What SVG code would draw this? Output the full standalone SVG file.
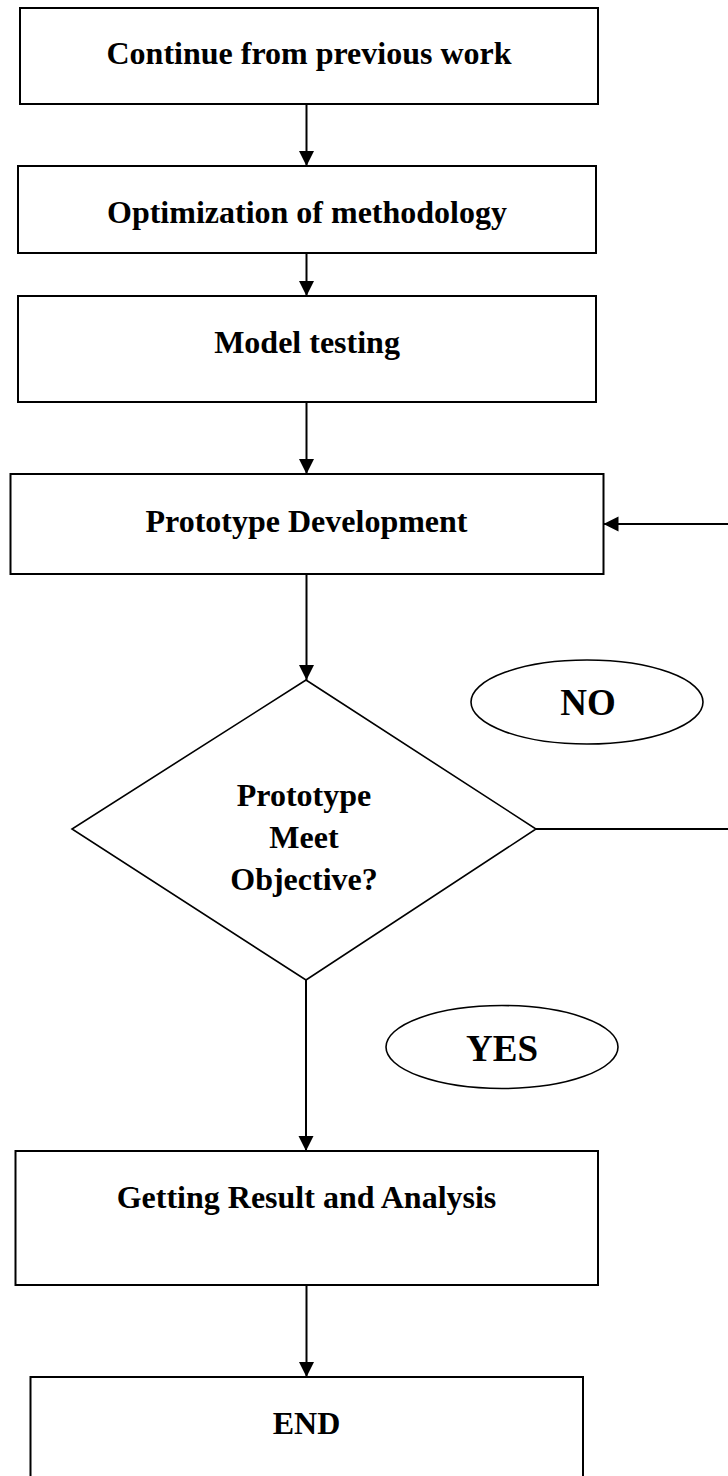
<svg xmlns="http://www.w3.org/2000/svg" width="728" height="1476" viewBox="0 0 728 1476">
<style>
.box{fill:#fff;stroke:#000;stroke-width:2}
.dia{fill:#fff;stroke:#000;stroke-width:1.6}
.ell{fill:#fff;stroke:#000;stroke-width:1.6}
.lbl{font-family:"Liberation Serif","Times New Roman",serif;font-weight:bold;font-size:32px;text-anchor:middle;fill:#000}
.big{font-size:37px}
.con{fill:none;stroke:#000;stroke-width:2}
</style>
<defs>
<marker id="ah" markerUnits="userSpaceOnUse" markerWidth="16" markerHeight="16" viewBox="0 0 16 16" refX="15" refY="8" orient="auto">
<path d="M0,0.5 L15,8 L0,15.5 Z" fill="#000"/>
</marker>
</defs>
<rect width="728" height="1476" fill="#fff"/>
<g id="connectors">
<line class="con" x1="306.5" y1="104" x2="306.5" y2="166" marker-end="url(#ah)"/>
<line class="con" x1="306.5" y1="253" x2="306.5" y2="296" marker-end="url(#ah)"/>
<line class="con" x1="306.5" y1="402" x2="306.5" y2="474" marker-end="url(#ah)"/>
<line class="con" x1="306.5" y1="574" x2="306.5" y2="680" marker-end="url(#ah)"/>
<line class="con" x1="536" y1="829" x2="728" y2="829"/>
<line class="con" x1="728" y1="524" x2="603.5" y2="524" marker-end="url(#ah)"/>
<line class="con" x1="306" y1="980" x2="306" y2="1151" marker-end="url(#ah)"/>
<line class="con" x1="306.5" y1="1285" x2="306.5" y2="1377" marker-end="url(#ah)"/>
</g>
<g id="n1">
<rect class="box" x="20" y="8" width="578" height="96"/>
<text class="lbl" x="309" y="64">Continue from previous work</text>
</g>
<g id="n2">
<rect class="box" x="18" y="166" width="578" height="87"/>
<text class="lbl" x="307" y="223">Optimization of methodology</text>
</g>
<g id="n3">
<rect class="box" x="18" y="296" width="578" height="106"/>
<text class="lbl" x="307" y="353">Model testing</text>
</g>
<g id="n4">
<rect class="box" x="10.5" y="474" width="593" height="100"/>
<text class="lbl" x="306.5" y="532">Prototype Development</text>
</g>
<g id="n5">
<polygon class="dia" points="306,680 536,829 306,980 72,829"/>
<text class="lbl" x="304" y="806">Prototype</text>
<text class="lbl" x="304" y="848">Meet</text>
<text class="lbl" x="304" y="890">Objective?</text>
</g>
<g id="no">
<ellipse class="ell" cx="587" cy="702" rx="116" ry="42"/>
<text class="lbl big" x="588" y="715">NO</text>
</g>
<g id="yes">
<ellipse class="ell" cx="502" cy="1047" rx="116" ry="41.5"/>
<text class="lbl big" x="502" y="1061">YES</text>
</g>
<g id="n6">
<rect class="box" x="15.5" y="1151" width="582.5" height="134"/>
<text class="lbl" x="306.5" y="1208">Getting Result and Analysis</text>
</g>
<g id="n7">
<rect class="box" x="30.5" y="1377" width="552.5" height="110"/>
<text class="lbl" x="306.5" y="1434">END</text>
</g>
</svg>
